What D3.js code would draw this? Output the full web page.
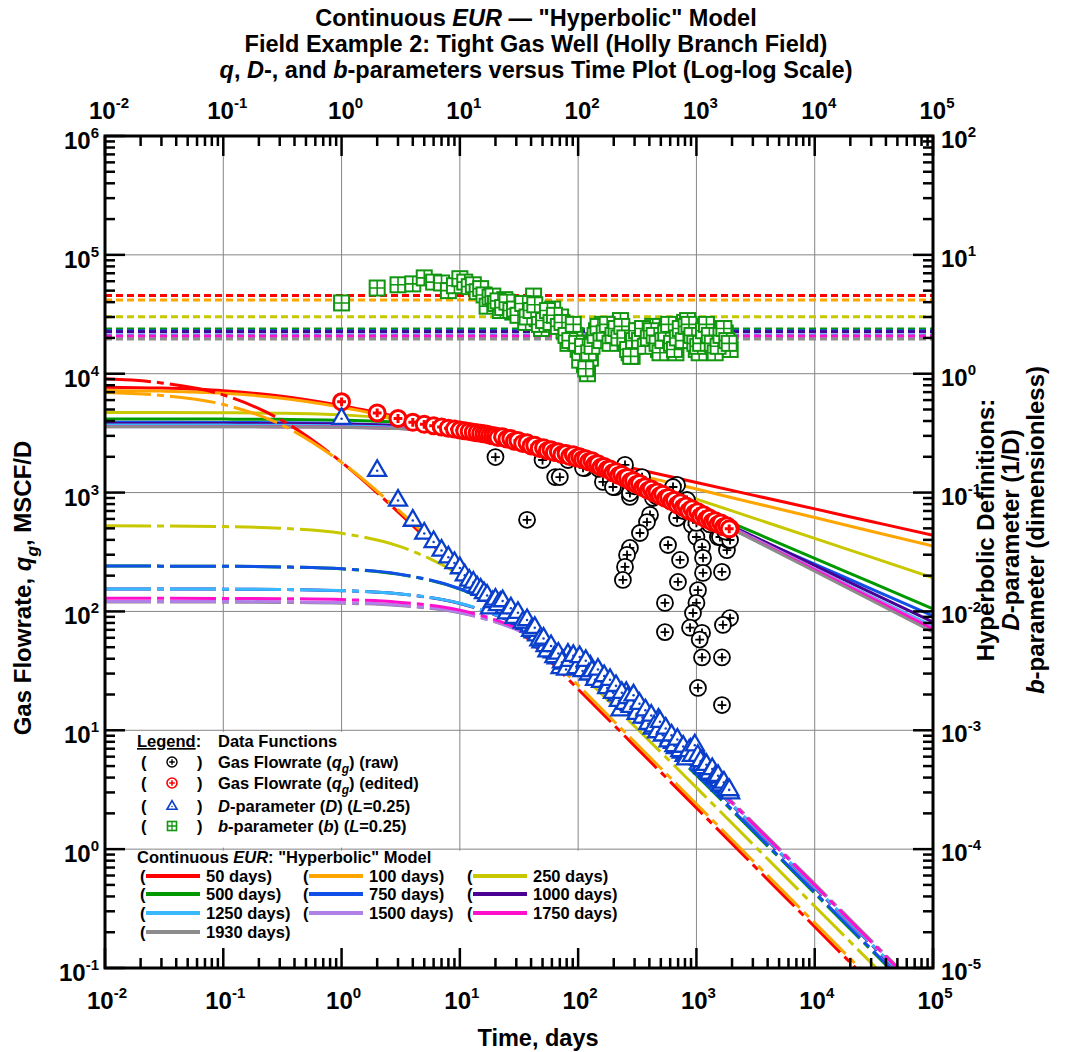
<!DOCTYPE html>
<html><head><meta charset="utf-8">
<script src="https://cdn.jsdelivr.net/npm/d3@7"></script>
<style>
body{margin:0;background:#fff;}
text{font-family:"Liberation Sans",Arial,Helvetica,sans-serif;font-weight:bold;fill:#000;}
</style>
</head><body>
<svg id="c" width="1072" height="1052" xmlns="http://www.w3.org/2000/svg"></svg>
<script>
// ---------------- DATA ----------------
const days = [1,2,3,4,5,6,7,8,9,10,11,12,13,14,15,16,17,18,19,20,
  22,24,26,28,30,33,36,39,42,45,49,53,57,61,66,71,76,82,88,94,
  100,106,113,120,127,135,143,152,161,171,181,192,203,215,228,241,255,270,286,303,
  321,340,360,381,403,427,452,478,506,535,566,599,634,671,710,751,795,841,890,942,
  997,1055,1116,1181,1250,1323,1400,1481,1567,1658,1754,1856,1930];
const rateEdited = [5800,4680,4200,3900,3750,3650,3560,3480,3420,3360,3310,3270,3220,3190,3150,3120,3090,3040,3010,2990,
  2930,2880,2840,2770,2720,2650,2600,2520,2490,2420,2360,2330,2260,2230,2180,2140,2120,2070,2060,2010,
  1990,1960,1920,1870,1830,1790,1720,1690,1640,1610,1570,1530,1490,1450,1400,1370,1320,1290,1240,1210,
  1180,1140,1110,1080,1060,1030,1000,980,960,930,900,880,850,830,800,790,760,740,710,700,
  680,650,640,620,600,590,570,560,550,535,520,505,500];
const declData = [0.425,0.155,0.087,0.059,0.046,0.039,0.033,0.029,0.026,0.0235,0.0205,0.0185,0.0178,0.0162,0.0155,0.0145,0.0138,0.0108,0.0122,0.0128,
  0.0120,0.0109,0.0100,0.0098,0.0094,0.0088,0.0080,0.0076,0.0068,0.0064,0.0056,0.0052,0.0048,0.0046,0.0041,0.0034,0.0037,0.0044,0.0040,0.0037,
  0.0040,0.0038,0.0036,0.0033,0.0035,0.0031,0.0029,0.0031,0.0027,0.0026,0.0025,0.0024,0.0022,0.0020,0.0015,0.0019,0.0021,0.0018,0.0019,0.0017,
  0.0015,0.0016,0.0014,0.0013,0.0012,0.00105,0.00115,0.00125,0.00105,0.00095,0.00098,0.00088,0.0008,0.00072,0.00078,0.00066,0.00062,0.00064,0.0007,0.00072,
  0.0007,0.00058,0.00052,0.0005,0.00046,0.00043,0.00045,0.0004,0.00038,0.00036,0.00034,0.00031,0.0003];
const bData = [3.94,5.26,5.6,5.7,6.4,5.9,5.8,5.0,5.5,6.3,5.9,5.4,5.6,4.9,5.2,4.6,3.7,4.4,4.5,3.9,
  3.4,4.2,3.8,3.3,3.8,3.6,2.7,3.2,4.5,2.9,2.4,3.0,3.3,3.5,2.8,3.0,2.3,1.8,2.4,2.1,
  1.6,1.5,1.2,1.0,1.35,1.9,2.3,2.1,2.6,2.4,2.0,1.9,2.6,2.3,2.8,2.2,1.8,1.5,1.4,1.7,
  2.1,2.3,2.0,1.8,2.2,2.5,1.9,1.6,1.7,2.1,2.4,2.0,1.7,1.5,2.2,2.1,2.7,2.8,2.3,1.9,
  1.6,1.5,2.0,2.5,2.4,1.9,1.7,1.6,1.8,2.3,2.2,1.7,1.6];
// additional (interleaved) production days
const days2 = [21,23,25,27,29,31,34,37,40,43,47,51,55,59,63,68,73,79,85,91,
  97,103,109,116,123,131,139,147,156,166,176,186,197,209,221,234,248,262,278,294,
  312,330,350,370,392,415,439,465,492,520,550,582,616,652,690,730,773,818,865,916,
  969,1026,1085,1148,1215,1286,1361,1440,1524,1612,1706,1805,1893];
const rateEdited2 = [2900,2950,2820,2850,2700,2740,2590,2620,2470,2500,2350,2380,2250,2290,2170,2200,2090,2130,2010,2080,
  1950,2000,1900,1930,1820,1850,1730,1750,1630,1660,1560,1580,1470,1500,1390,1420,1320,1340,1240,1260,
  1170,1190,1100,1120,1040,1070,990,1010,940,970,890,910,840,860,790,820,750,770,700,730,
  670,690,630,650,595,610,565,580,540,555,515,525,495];
const declData2 = [0.0115,0.0124,0.0098,0.0108,0.0090,0.0099,0.0082,0.0086,0.0070,0.0074,0.0058,0.0060,0.0047,0.0052,0.0042,0.0045,0.0038,0.0033,0.0039,0.0043,
  0.0034,0.0042,0.0032,0.0039,0.0030,0.0032,0.0027,0.0033,0.0026,0.0029,0.0023,0.0027,0.0021,0.0024,0.0018,0.0021,0.0017,0.0019,0.0016,0.0020,
  0.0014,0.0017,0.0013,0.0015,0.00115,0.00135,0.0011,0.00098,0.0012,0.00092,0.00105,0.00082,0.00092,0.00075,0.00085,0.00068,0.00074,0.00058,0.00068,0.00062,
  0.00076,0.00062,0.00056,0.00049,0.00052,0.00044,0.00048,0.00041,0.00042,0.00035,0.00037,0.00032,0.00032];
const bData2 = [4.1,3.6,4.0,3.4,3.5,3.1,3.9,3.0,3.4,3.8,2.6,2.8,3.4,2.7,3.1,2.5,2.7,2.1,1.9,2.6,
  1.8,1.3,1.7,1.1,1.5,1.7,2.1,2.5,1.9,2.2,2.6,1.8,2.1,2.4,2.0,2.5,2.0,1.6,1.4,1.9,
  2.3,1.9,2.4,1.7,2.0,2.3,2.1,1.8,1.5,1.9,2.2,2.6,1.8,1.6,2.0,2.4,1.9,2.5,2.6,2.1,
  1.8,1.7,1.8,2.3,2.6,2.1,1.8,1.5,1.7,2.1,2.4,1.9,1.8];
// raw points that differ from the edited set
const rawDays = [20,37,50,64,70,114,162,205,249,274,347,429,405,382,333,274,259,249,239,575,727,698,542,542,686,686,916,1000,1115,1137,1137,1030,1000,935,883,1115,1066,1115,1030,1644,1923,1676,1644,1811,1849,1644,1520,
  82,110,197,274,634,832,1000,1227,1580,1923,150,300,460,780,1300,1750];
const rawRate = [1990,590,1880,1350,1350,1610,1230,1110,1710,920,1350,900,650,565,457,342,299,237,184,362,271,177,118,67,1160,611,533,423,348,282,211,151,118,97,73,66,58,41,22.7,41,88,77,215,328,399,16.3,423,
  1880,1611,1114,991,1114,866,555,624,423,399,1580,1130,930,700,540,470];

const modelTimes = [0.01,0.03,0.1,0.3,1,3,10,30,100,300,1000,3000,10000,30000,100000];
const modelLabels = ["50 days","100 days","250 days","500 days","750 days","1000 days","1250 days","1500 days","1750 days","1930 days"];
const modelColors = ["#ff0000","#ffa500","#c8c800","#009a00","#1050e8","#4b0095","#38b8ff","#b080e6","#ff10cc","#8c8c8c"];
const bModel = [4.55,4.17,3.02,2.38,2.30,2.25,2.12,2.05,2.08,1.96];

const rate50   = [7709,7575,7193,6481,5383,4346,3365,2646,2026,1588,1215,952,729,571,437];
const rate100  = [7239,7141,6847,6253,5232,4201,3203,2475,1857,1427,1070,822,616,473,355];
const rate250  = [4728,4723,4705,4658,4505,4157,3452,2648,1855,1307,881,613,412,286,192];
const rate500  = [4159,4157,4150,4130,4064,3892,3437,2727,1856,1216,741,467,280,175.4,105.1];
const rate750  = [3899,3897,3891,3872,3809,3648,3220,2548,1723,1120,675,421,250,155,91.9];
const rate1000 = [3819,3818,3814,3802,3762,3654,3341,2764,1919,1234,718,430,243,144.2,81.3];
const rate1250 = [3700,3698,3694,3683,3644,3540,3236,2673,1850,1183,683,406,227.8,134.1,75.0];
const rate1500 = [3580,3579,3576,3567,3537,3456,3211,2723,1933,1243,712,416,229.2,132.5,72.6];
const rate1750 = [3600,3599,3595,3586,3554,3468,3210,2703,1903,1218,695.6,406.6,223.7,129.3,70.9];
const rate1930 = [3580,3579,3576,3567,3538,3457,3214,2726,1929,1231,696,401.8,217.8,124.2,67.0];

const decl50   = [0.905,0.837,0.663,0.415,0.180,0.0687,0.0217,0.00735,0.002217,0.00074,0.0002222,7.41e-5,2.222e-5,7.41e-6,2.22e-6];
const decl100  = [0.6955,0.6571,0.5514,0.3777,0.1796,0.07191,0.0232,0.007905,0.00239,0.000798,0.0002397,7.99e-5,2.398e-5,7.99e-6,2.40e-6];
const decl250  = [0.05252,0.05235,0.05177,0.05021,0.04539,0.03562,0.02032,0.009124,0.003114,0.001081,0.0003291,0.0001101,3.311e-5,1.104e-5,3.31e-6];
const decl500  = [0.02409,0.02405,0.02397,0.0237,0.02281,0.0206,0.01539,0.00893,0.003617,0.001339,0.0004181,0.000141,4.247e-5,1.415e-5,4.25e-6];
const decl750  = [0.02409,0.02405,0.02397,0.0237,0.02284,0.02066,0.01551,0.009051,0.003683,0.001367,0.0004271,0.0001441,4.34e-5,1.446e-5,4.35e-6];
const decl1000 = [0.015445,0.015435,0.0154,0.0153,0.01496,0.01408,0.01166,0.00783,0.00364,0.001439,0.000462,0.0001571,4.748e-5,1.586e-5,4.76e-6];
const decl1250 = [0.015445,0.015435,0.0154,0.0153,0.01497,0.0141,0.0117,0.007884,0.00368,0.001458,0.0004685,0.0001594,4.817e-5,1.608e-5,4.83e-6];
const decl1500 = [0.012147,0.012141,0.012121,0.012062,0.011862,0.011324,0.009774,0.007027,0.003542,0.001466,0.0004803,0.0001644,4.98e-5,1.664e-5,5.0e-6];
const decl1750 = [0.012897,0.01289,0.012867,0.012801,0.012576,0.011973,0.010254,0.007272,0.003602,0.001476,0.0004814,0.0001645,4.98e-5,1.664e-5,5.0e-6];
const decl1930 = [0.011997,0.011991,0.011972,0.011916,0.011725,0.011213,0.009724,0.00705,0.003592,0.001496,0.0004918,0.0001685,5.105e-5,1.707e-5,5.13e-6];

const xTickExp = [-2,-1,0,1,2,3,4,5];
const qTickExp = [-1,0,1,2,3,4,5,6];
const rTickExp = [-5,-4,-3,-2,-1,0,1,2];

// ---------------- CHART ----------------
const rates = [rate50,rate100,rate250,rate500,rate750,rate1000,rate1250,rate1500,rate1750,rate1930];
const decls = [decl50,decl100,decl250,decl500,decl750,decl1000,decl1250,decl1500,decl1750,decl1930];
const allDays = days.concat(days2), allRate = rateEdited.concat(rateEdited2),
      allDecl = declData.concat(declData2), allB = bData.concat(bData2);

const L=105,R=933,T=136,B=968;
const svg = d3.select("#c");
const x = d3.scaleLog().domain([1e-2,1e5]).range([L,R]);
const yq = d3.scaleLog().domain([1e-1,1e6]).range([B,T]);
const yr = d3.scaleLog().domain([1e-5,1e2]).range([B,T]);

svg.append("defs").append("clipPath").attr("id","plotclip")
  .append("rect").attr("x",L).attr("y",T).attr("width",R-L).attr("height",B-T);

// grid
const grid = svg.append("g").attr("stroke","#858585").attr("stroke-width",1);
xTickExp.forEach(e=>grid.append("line").attr("x1",x(Math.pow(10,e))).attr("x2",x(Math.pow(10,e))).attr("y1",T).attr("y2",B));
qTickExp.forEach(e=>grid.append("line").attr("y1",yq(Math.pow(10,e))).attr("y2",yq(Math.pow(10,e))).attr("x1",L).attr("x2",R));
svg.append("rect").attr("x",L+2).attr("y",yq(10)+1.5).attr("width",x(10)-L-3).attr("height",yq(1)-yq(10)-3).attr("fill","#fff");
svg.append("rect").attr("x",L+2).attr("y",yq(1)+1.5).attr("width",x(1000)-L-3).attr("height",B-yq(1)-3).attr("fill","#fff");

const plot = svg.append("g").attr("clip-path","url(#plotclip)");

plot.append("g").selectAll("line").data(bModel).join("line")
  .attr("x1",L).attr("x2",R).attr("y1",d=>yr(d)).attr("y2",d=>yr(d))
  .attr("stroke",(d,i)=>modelColors[i]).attr("stroke-width",3).attr("stroke-dasharray","7 4");

const lineQ = d3.line().x(d=>x(d[0])).y(d=>yq(d[1])).curve(d3.curveMonotoneX);
const lineD = d3.line().x(d=>x(d[0])).y(d=>yr(d[1])).curve(d3.curveMonotoneX);

rates.forEach((arr,i)=>{
  plot.append("path").attr("d",lineQ(modelTimes.map((t,j)=>[t,arr[j]])))
    .attr("fill","none").attr("stroke",modelColors[i]).attr("stroke-width",3);
});
const dOrder=[9,0,1,2,3,4,5,6,7,8];
dOrder.forEach(i=>{
  plot.append("path").attr("d",lineD(modelTimes.map((t,j)=>[t,decls[i][j]])))
    .attr("fill","none").attr("stroke",modelColors[i]).attr("stroke-width",3)
    .attr("stroke-dasharray","46 6 7 6");
});

function circlePlus(g,cx,cy,r,col,sw){
  g.append("circle").attr("cx",cx).attr("cy",cy).attr("r",r).attr("fill","#fff").attr("stroke",col).attr("stroke-width",sw);
  const a=r*0.55;
  g.append("path").attr("d",`M${cx-a},${cy}H${cx+a}M${cx},${cy-a}V${cy+a}`).attr("stroke",col).attr("stroke-width",sw);
}
function tri(g,cx,cy,s,col,sw){
  const h=s*0.866;
  g.append("path").attr("d",`M${cx},${cy-h*0.62}L${cx+s/2},${cy+h*0.38}L${cx-s/2},${cy+h*0.38}Z`)
    .attr("fill","#fff").attr("stroke",col).attr("stroke-width",sw).attr("stroke-linejoin","miter");
  g.append("circle").attr("cx",cx).attr("cy",cy+h*0.05).attr("r",Math.max(0.8,s*0.07)).attr("fill",col);
}
function sqx(g,cx,cy,s,col,sw){
  g.append("rect").attr("x",cx-s/2).attr("y",cy-s/2).attr("width",s).attr("height",s).attr("fill","#fff").attr("stroke",col).attr("stroke-width",sw);
  g.append("path").attr("d",`M${cx-s/2},${cy}H${cx+s/2}M${cx},${cy-s/2}V${cy+s/2}`).attr("stroke",col).attr("stroke-width",sw*0.8);
}
const mk = plot.append("g");
rawDays.forEach((t,i)=>circlePlus(mk,x(t),yq(rawRate[i]),8,"#000",1.8));
allDays.forEach((t,i)=>circlePlus(mk,x(t),yq(allRate[i]),8,"#ff0000",3));
allDays.forEach((t,i)=>tri(mk,x(t),yr(allDecl[i]),18,"#0a3fcc",2.3));
allDays.forEach((t,i)=>sqx(mk,x(t),yr(allB[i]),15,"#10960f",2));

// ticks
const tk = svg.append("g").attr("stroke","#000").attr("stroke-width",2.5);
const minors = e0 => { const out=[]; for(let e=e0[0]; e<e0[1]; e++) for(let k=2;k<=9;k++) out.push(k*Math.pow(10,e)); return out; };
xTickExp.forEach(e=>{ const v=x(Math.pow(10,e));
  tk.append("line").attr("x1",v).attr("x2",v).attr("y1",B).attr("y2",B-20);
  tk.append("line").attr("x1",v).attr("x2",v).attr("y1",T).attr("y2",T+20); });
minors([-2,5]).forEach(m=>{ const v=x(m);
  tk.append("line").attr("x1",v).attr("x2",v).attr("y1",B).attr("y2",B-10);
  tk.append("line").attr("x1",v).attr("x2",v).attr("y1",T).attr("y2",T+10); });
qTickExp.forEach(e=>{ const v=yq(Math.pow(10,e));
  tk.append("line").attr("y1",v).attr("y2",v).attr("x1",L).attr("x2",L+20);
  tk.append("line").attr("y1",v).attr("y2",v).attr("x1",R).attr("x2",R-20); });
minors([-1,6]).forEach(m=>{ const v=yq(m);
  tk.append("line").attr("y1",v).attr("y2",v).attr("x1",L).attr("x2",L+10);
  tk.append("line").attr("y1",v).attr("y2",v).attr("x1",R).attr("x2",R-10); });
svg.append("rect").attr("x",L).attr("y",T).attr("width",R-L).attr("height",B-T).attr("fill","none").attr("stroke","#000").attr("stroke-width",3);

function powLabel(px,py,e,anchor){
  const t=svg.append("text").attr("x",px).attr("y",py).attr("text-anchor",anchor).attr("font-size",24);
  t.append("tspan").text("10");
  t.append("tspan").attr("dy",-11).attr("font-size",15).text(String(e));
}
xTickExp.forEach(e=>{ powLabel(x(Math.pow(10,e))+4,119,e,"middle"); powLabel(x(Math.pow(10,e))+2,1009,e,"middle"); });
qTickExp.forEach(e=>powLabel(99,yq(Math.pow(10,e))+13,e,"end"));
rTickExp.forEach(e=>powLabel(941,yr(Math.pow(10,e))+12,e,"start"));

function rich(sel,parts,size){
  let shift=0;
  parts.forEach(p=>{
    const ts=sel.append("tspan").text(p.t);
    if(p.i) ts.attr("font-style","italic");
    if(p.u) ts.attr("text-decoration","underline");
    const want=p.sub?size*0.3:0;
    if(want!==shift){ ts.attr("dy",want-shift); shift=want; }
    if(p.sub) ts.attr("font-size",size*0.72);
  });
}
function txt(px,py,parts,size,anchor,rot){
  const t=svg.append("text").attr("font-size",size).attr("text-anchor",anchor||"start");
  if(rot) t.attr("transform",`translate(${px},${py}) rotate(${rot})`);
  else t.attr("x",px).attr("y",py);
  rich(t,parts,size); return t;
}

txt(536,26,[{t:"Continuous "},{t:"EUR",i:1},{t:" \u2014 \"Hyperbolic\" Model"}],23.5,"middle");
txt(536,52,[{t:"Field Example 2: Tight Gas Well (Holly Branch Field)"}],23.5,"middle");
txt(536,78,[{t:"q",i:1},{t:", "},{t:"D",i:1},{t:"-, and "},{t:"b",i:1},{t:"-parameters versus Time Plot (Log-log Scale)"}],23.5,"middle");
txt(538,1046,[{t:"Time, days"}],23.5,"middle");
txt(31,588,[{t:"Gas Flowrate, "},{t:"q",i:1},{t:"g",i:1,sub:1},{t:", MSCF/D"}],24,"middle",-90);
txt(994,530,[{t:"Hyperbolic Definitions:"}],24,"middle",-90);
txt(1019,530,[{t:"D",i:1},{t:"-parameter (1/D)"}],24,"middle",-90);
txt(1044,530,[{t:"b",i:1},{t:"-parameter (dimensionless)"}],24,"middle",-90);

const FS=16.5;
const lg = svg.append("g");
txt(137,747,[{t:"Legend",u:1},{t:":"}],FS);
txt(218,747,[{t:"Data Functions"}],FS);
const rows=[768,789,812,832];
const lgTexts=[
  [{t:"Gas Flowrate ("},{t:"q",i:1},{t:"g",i:1,sub:1},{t:") (raw)"}],
  [{t:"Gas Flowrate ("},{t:"q",i:1},{t:"g",i:1,sub:1},{t:") (edited)"}],
  [{t:"D",i:1},{t:"-parameter ("},{t:"D",i:1},{t:") ("},{t:"L",i:1},{t:"=0.25)"}],
  [{t:"b",i:1},{t:"-parameter ("},{t:"b",i:1},{t:") ("},{t:"L",i:1},{t:"=0.25)"}]];
rows.forEach((yb,i)=>{
  txt(141,yb,[{t:"("}],FS); txt(197,yb,[{t:")"}],FS);
  txt(218,yb,lgTexts[i],FS);
});
circlePlus(lg,172,rows[0]-6,5,"#000",1.4);
circlePlus(lg,172,rows[1]-6,5,"#ff0000",1.6);
tri(lg,172,rows[2]-6,10,"#0a3fcc",1.6);
sqx(lg,172,rows[3]-6,9,"#10960f",1.6);

txt(137,863,[{t:"Continuous "},{t:"EUR",i:1},{t:": \"Hyperbolic\" Model"}],FS);
const colX=[140,303,467], rowY=[882,900,919,938];
modelLabels.forEach((lab,i)=>{
  const cx=colX[i%3], cy=rowY[Math.floor(i/3)];
  txt(cx,cy,[{t:"("}],FS);
  lg.append("line").attr("x1",cx+6).attr("x2",cx+60).attr("y1",cy-6).attr("y2",cy-6).attr("stroke",modelColors[i]).attr("stroke-width",4);
  txt(cx+66,cy,[{t:lab+")"}],FS);
});
</script>
</body></html>
